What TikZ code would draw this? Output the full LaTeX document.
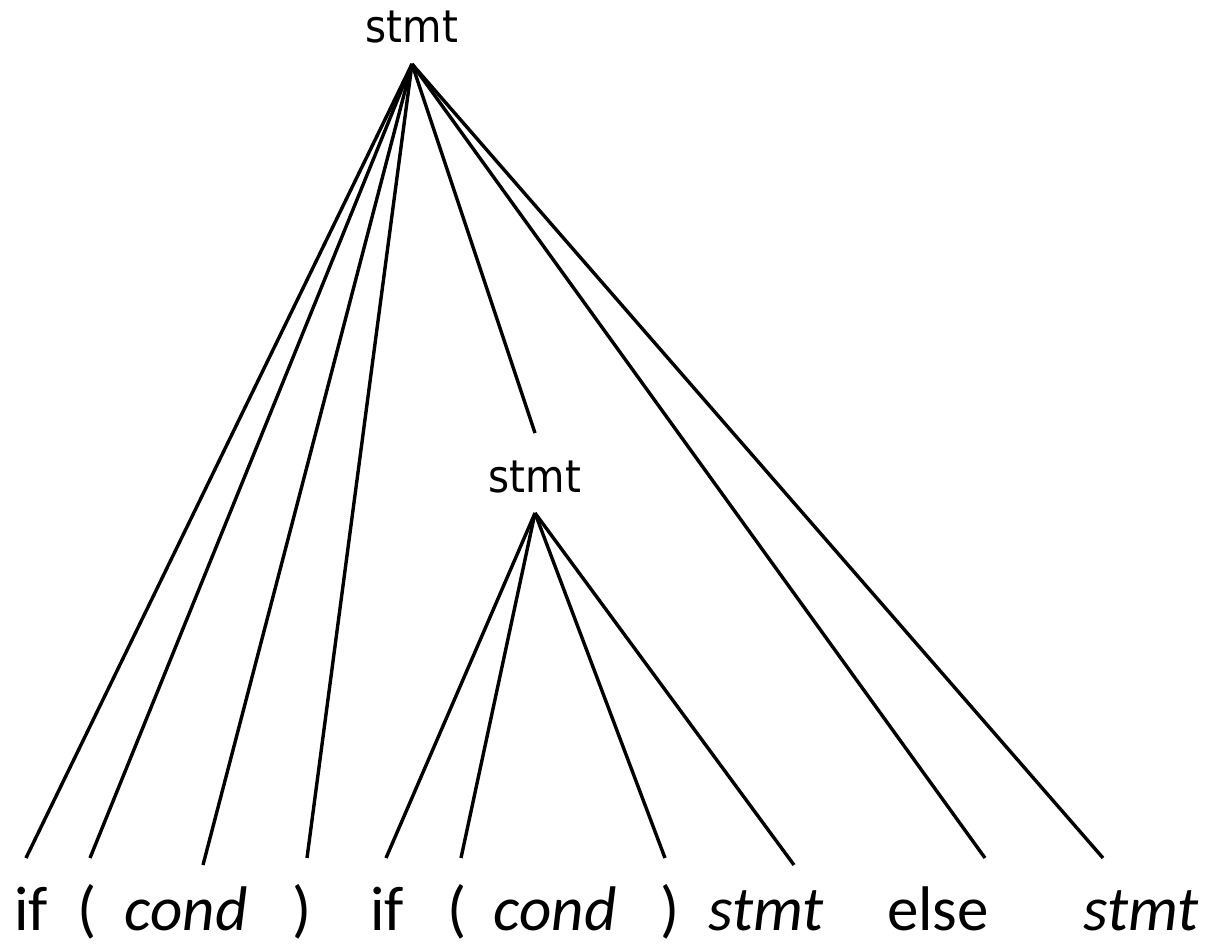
\documentclass[tikz,border=0pt]{standalone}
\usepackage{fontspec}
\setmainfont{Carlito}
\newfontfamily\topfont{DejaVu Sans Condensed}
\begin{document}
\begin{tikzpicture}[x=1pt,y=-1pt,
  edge/.style={line width=3.4pt, black},
  leaf/.style={anchor=base, inner sep=0pt, font=\fontsize{63}{75}\selectfont},
  inner/.style={anchor=base, inner sep=0pt, font=\topfont\fontsize{45}{54}\selectfont}]
\useasboundingbox[fill=white] (0,0) rectangle (1213,944);
% nonterminal labels
\node[inner] (top) at (412,43) {stmt};
\node[inner] (mid) at (535,492) {stmt};
% leaves
\node[leaf] (if1) at (31,930) {if};
\node[leaf] (lp1) at (87,930) {(};
\node[leaf] (c1) at (186,930) {\itshape cond};
\node[leaf] (rp1) at (302,930) {)};
\node[leaf] (if2) at (387,930) {if};
\node[leaf] (lp2) at (457,930) {(};
\node[leaf] (c2) at (555,930) {\itshape cond};
\node[leaf] (rp2) at (670,930) {)};
\node[leaf] (s1) at (766,930) {\itshape stmt};
\node[leaf] (el) at (938,930) {else};
\node[leaf] (s2) at (1141,930) {\itshape stmt};
% connector end points
\coordinate (ta) at (412,64);
\coordinate (ma) at (535,513);
\coordinate (mtop) at (535,433);
\coordinate (eif1) at (26,858);
\coordinate (elp1) at (90,858);
\coordinate (ec1) at (203,865);
\coordinate (erp1) at (307,858);
\coordinate (eif2) at (386,858);
\coordinate (elp2) at (461,858);
\coordinate (erp2) at (665,858);
\coordinate (es1) at (794,865);
\coordinate (eel) at (985,858);
\coordinate (es2) at (1103,858);
% top connectors
\draw[edge] (ta) -- (eif1);
\draw[edge] (ta) -- (elp1);
\draw[edge] (ta) -- (ec1);
\draw[edge] (ta) -- (erp1);
\draw[edge] (ta) -- (mtop);
\draw[edge] (ta) -- (eel);
\draw[edge] (ta) -- (es2);
% middle connectors
\draw[edge] (ma) -- (eif2);
\draw[edge] (ma) -- (elp2);
\draw[edge] (ma) -- (erp2);
\draw[edge] (ma) -- (es1);
\end{tikzpicture}
\end{document}
